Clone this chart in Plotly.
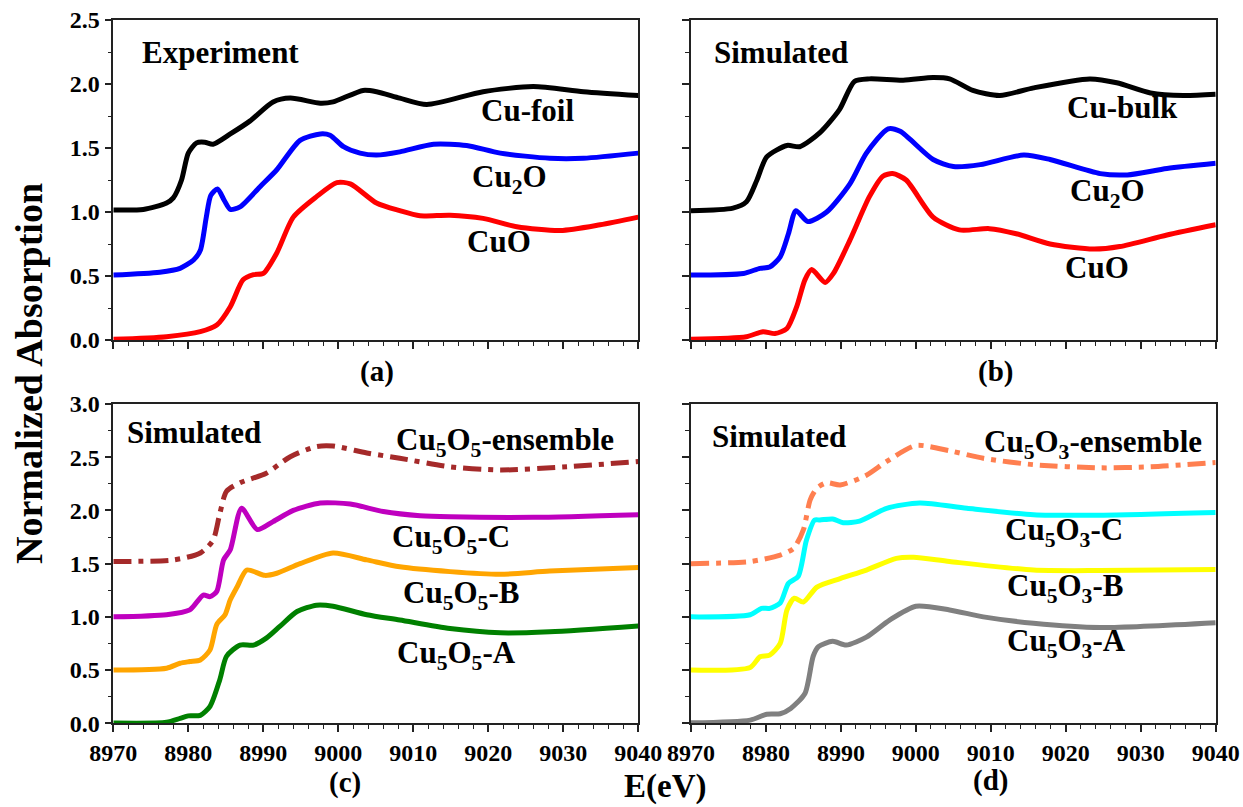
import plotly.graph_objects as go

# ---------------- data ----------------
# (a) Experiment
a_foil_E = [8970, 8974, 8977.1, 8978, 8979.1, 8980, 8981.1, 8982.2, 8983.3, 8985.6, 8988.2, 8991.3, 8993.6, 8997.6, 8999.3, 9003.3, 9005.1, 9008.2, 9011.8, 9019.3, 9026, 9032.7, 9040]
a_foil_mu = [1.016, 1.02, 1.07, 1.11, 1.25, 1.46, 1.54, 1.545, 1.53, 1.61, 1.71, 1.86, 1.89, 1.85, 1.86, 1.95, 1.94, 1.89, 1.84, 1.94, 1.98, 1.94, 1.91]
a_cu2o_E = [8970, 8976.2, 8978.9, 8980.7, 8981.6, 8982.4, 8983, 8983.9, 8984.8, 8985.6, 8986.9, 8989.6, 8991.8, 8994.9, 8997.6, 8998.9, 9000.7, 9002.9, 9005.1, 9008.2, 9012.7, 9017.1, 9021.6, 9028.2, 9032.7, 9040]
a_cu2o_mu = [0.508, 0.53, 0.56, 0.625, 0.70, 0.96, 1.13, 1.18, 1.09, 1.02, 1.04, 1.20, 1.33, 1.56, 1.61, 1.60, 1.51, 1.46, 1.445, 1.47, 1.53, 1.52, 1.46, 1.42, 1.42, 1.46]
a_cuo_E = [8970, 8977.1, 8981.6, 8983.8, 8985.6, 8987.3, 8988.7, 8990, 8991.8, 8994, 8997.1, 8999.8, 9001.6, 9005.1, 9008.2, 9010.9, 9014.9, 9019.3, 9023.8, 9029.6, 9034.9, 9040]
a_cuo_mu = [0.005, 0.026, 0.065, 0.117, 0.26, 0.47, 0.51, 0.52, 0.68, 0.96, 1.12, 1.23, 1.22, 1.07, 1.01, 0.97, 0.975, 0.95, 0.885, 0.855, 0.90, 0.96]

# (b) Simulated bulk references
b_bulk_E = [8970, 8975.6, 8977.4, 8978.8, 8980.1, 8982.8, 8984.5, 8987.2, 8989.8, 8991.8, 8993.8, 8998.3, 9002.3, 9004.5, 9007.6, 9011.2, 9015.7, 9023.2, 9026.8, 9031.3, 9035.7, 9040]
b_bulk_mu = [1.01, 1.03, 1.08, 1.25, 1.43, 1.52, 1.51, 1.62, 1.80, 2.02, 2.04, 2.03, 2.05, 2.04, 1.95, 1.91, 1.97, 2.04, 2.01, 1.93, 1.91, 1.92]
b_cu2o_E = [8970, 8977, 8979.2, 8980.5, 8981.9, 8983, 8984, 8985.6, 8988.1, 8991.2, 8993.4, 8996.3, 8997.9, 9002.3, 9005, 9008.6, 9014.4, 9017.9, 9024.6, 9028.2, 9033.5, 9040]
b_cu2o_mu = [0.508, 0.52, 0.56, 0.57, 0.65, 0.83, 1.01, 0.925, 1.00, 1.22, 1.46, 1.65, 1.63, 1.41, 1.355, 1.37, 1.445, 1.41, 1.30, 1.29, 1.34, 1.38]
b_cuo_E = [8970, 8977.4, 8979.6, 8981.2, 8982.8, 8984.1, 8985.2, 8986.1, 8987.9, 8989, 8991.2, 8993.8, 8995.6, 8996.9, 8998.7, 9002.3, 9005.8, 9009.8, 9013.4, 9017.9, 9023.7, 9027.2, 9033.5, 9040]
b_cuo_mu = [0.005, 0.026, 0.065, 0.05, 0.09, 0.26, 0.47, 0.55, 0.45, 0.52, 0.78, 1.12, 1.28, 1.30, 1.25, 0.96, 0.86, 0.87, 0.83, 0.75, 0.71, 0.73, 0.82, 0.90]

# (c) Cu5O5 clusters
c_ens_E = [8970, 8978, 8981.6, 8983.3, 8984.2, 8985.1, 8986.9, 8990.4, 8993.6, 8997.1, 8999.3, 9003.8, 9008.2, 9014.9, 9021.6, 9030.5, 9040]
c_ens_mu = [1.52, 1.535, 1.60, 1.72, 1.97, 2.18, 2.26, 2.35, 2.505, 2.60, 2.605, 2.54, 2.49, 2.41, 2.38, 2.41, 2.46]
c_C_E = [8970, 8977.1, 8980.2, 8982, 8982.9, 8983.8, 8984.7, 8985.6, 8987.1, 8989.2, 8991.3, 8994, 8997.6, 9001.6, 9006, 9010.9, 9014.9, 9026, 9040]
c_C_mu = [1.00, 1.02, 1.065, 1.205, 1.19, 1.24, 1.535, 1.63, 2.02, 1.82, 1.895, 2.00, 2.07, 2.06, 1.99, 1.95, 1.94, 1.935, 1.96]
c_B_E = [8970, 8977.1, 8978.9, 8980.2, 8981.6, 8982.9, 8983.8, 8984.9, 8985.6, 8986.5, 8987.8, 8990.2, 8991.8, 8994.9, 8999.3, 9003.8, 9008.2, 9014.9, 9021.6, 9028.2, 9040]
c_B_mu = [0.50, 0.517, 0.564, 0.58, 0.595, 0.69, 0.93, 1.02, 1.16, 1.28, 1.44, 1.39, 1.41, 1.50, 1.60, 1.535, 1.47, 1.425, 1.40, 1.43, 1.465]
c_A_E = [8970, 8977.1, 8978.9, 8980, 8981.6, 8982.9, 8984.2, 8985.1, 8986.9, 8988.7, 8990.4, 8992.2, 8994.5, 8997.1, 8999.3, 9003.8, 9008.2, 9014.9, 9021.6, 9028.2, 9040]
c_A_mu = [0.003, 0.01, 0.047, 0.07, 0.075, 0.16, 0.41, 0.63, 0.735, 0.735, 0.80, 0.91, 1.05, 1.11, 1.10, 1.02, 0.97, 0.89, 0.85, 0.86, 0.915]

# (d) Cu5O3 clusters
d_ens_E = [8970, 8977.9, 8981.9, 8983.7, 8985, 8985.9, 8986.8, 8988.1, 8989.9, 8993.4, 8996.1, 9000, 9004.5, 9009, 9015.7, 9024.6, 9031.3, 9040]
d_ens_mu = [1.50, 1.52, 1.58, 1.645, 1.82, 2.10, 2.21, 2.26, 2.24, 2.33, 2.46, 2.61, 2.56, 2.49, 2.43, 2.40, 2.41, 2.45]
d_C_E = [8970, 8977.9, 8979.4, 8980.5, 8981.9, 8983, 8984.3, 8985.4, 8986.5, 8987.2, 8988.9, 8990.3, 8992.5, 8996.1, 9000.5, 9006.8, 9015.7, 9024.6, 9040]
d_C_mu = [1.00, 1.02, 1.08, 1.08, 1.13, 1.315, 1.38, 1.72, 1.91, 1.91, 1.92, 1.885, 1.90, 2.02, 2.07, 2.02, 1.96, 1.955, 1.98]
d_B_E = [8970, 8977.9, 8979.2, 8980.5, 8981.9, 8982.8, 8983.8, 8985, 8986.8, 8989.9, 8993.4, 8997.4, 8999.7, 9004.5, 9015.7, 9024.6, 9040]
d_B_mu = [0.50, 0.525, 0.625, 0.64, 0.75, 1.065, 1.175, 1.14, 1.28, 1.36, 1.44, 1.55, 1.56, 1.52, 1.44, 1.435, 1.445]
d_A_E = [8970, 8977.9, 8980.1, 8981.9, 8983.3, 8985.2, 8986.3, 8987, 8988.9, 8990.7, 8993.4, 8996.5, 9000, 9004.5, 9009, 9015.7, 9024.6, 9040]
d_A_mu = [0.005, 0.03, 0.085, 0.09, 0.14, 0.28, 0.63, 0.72, 0.77, 0.735, 0.81, 0.97, 1.10, 1.065, 1.00, 0.94, 0.90, 0.945]

x_ticks = [8970, 8980, 8990, 9000, 9010, 9020, 9030, 9040]

# ---------------- figure ----------------
FONT = "Liberation Serif"
fig = go.Figure()

series = [
    ("x", "y", a_foil_E, a_foil_mu, "black", "solid"),
    ("x", "y", a_cu2o_E, a_cu2o_mu, "#0000FF", "solid"),
    ("x", "y", a_cuo_E, a_cuo_mu, "#FF0000", "solid"),
    ("x2", "y2", b_bulk_E, b_bulk_mu, "black", "solid"),
    ("x2", "y2", b_cu2o_E, b_cu2o_mu, "#0000FF", "solid"),
    ("x2", "y2", b_cuo_E, b_cuo_mu, "#FF0000", "solid"),
    ("x3", "y3", c_ens_E, c_ens_mu, "#A52A2A", "18px,7px,5px,7px"),
    ("x3", "y3", c_C_E, c_C_mu, "#BF00BF", "solid"),
    ("x3", "y3", c_B_E, c_B_mu, "#FFA500", "solid"),
    ("x3", "y3", c_A_E, c_A_mu, "#008000", "solid"),
    ("x4", "y4", d_ens_E, d_ens_mu, "#FF7F50", "18px,7px,5px,7px"),
    ("x4", "y4", d_C_E, d_C_mu, "#00FFFF", "solid"),
    ("x4", "y4", d_B_E, d_B_mu, "#FFFF00", "solid"),
    ("x4", "y4", d_A_E, d_A_mu, "#808080", "solid"),
]
for xa, ya, xs, ys, col, dash in series:
    fig.add_trace(go.Scatter(x=xs, y=ys, xaxis=xa, yaxis=ya, mode="lines",
                             line=dict(color=col, width=5, dash=dash, shape="spline", smoothing=0.7),
                             showlegend=False, hoverinfo="skip"))

W, H = 1243, 807
xdomL = [113.3 / W, 638.3 / W]
xdomR = [691.0 / W, 1215.7 / W]
ydomT = [1 - 340.0 / H, 1 - 20.0 / H]
ydomB = [1 - 723.3 / H, 1 - 404.0 / H]

tickfont = dict(family=FONT, size=24, color="black")

def xaxis(dom, anchor, labels):
    return dict(domain=dom, anchor=anchor, range=[8970, 9040], tickmode="array",
                tickvals=x_ticks, ticktext=[f"<b>{v}</b>" for v in x_ticks] if labels else [""] * len(x_ticks),
                ticks="outside", ticklen=7, tickwidth=1.5, tickcolor="#222",
                minor=dict(dtick=2, tick0=8970, ticks="outside", ticklen=4, tickwidth=1.2, tickcolor="#222"),
                showline=True, linecolor="#222", linewidth=1.5, mirror=True, automargin=False,
                showgrid=False, zeroline=False, tickfont=tickfont)

def yaxis(dom, anchor, rng, labels):
    vals = [i * 0.5 for i in range(int(rng[1] / 0.5) + 1)]
    return dict(domain=dom, anchor=anchor, range=rng, tickmode="array",
                tickvals=vals, ticktext=[f"<b>{v:.1f}</b>" for v in vals] if labels else [""] * len(vals),
                ticks="outside", ticklen=7, tickwidth=1.5, tickcolor="#222",
                minor=dict(dtick=0.25, tick0=0, ticks="outside", ticklen=4, tickwidth=1.2, tickcolor="#222"),
                showline=True, linecolor="#222", linewidth=1.5, mirror=True, automargin=False,
                showgrid=False, zeroline=False, tickfont=tickfont)

fig.update_layout(
    width=W, height=H, autosize=False,
    margin=dict(l=0, r=0, t=0, b=0, pad=0),
    plot_bgcolor="white", paper_bgcolor="white",
    xaxis=xaxis(xdomL, "y", False), yaxis=yaxis(ydomT, "x", [0, 2.5], True),
    xaxis2=xaxis(xdomR, "y2", False), yaxis2=yaxis(ydomT, "x2", [0, 2.5], False),
    xaxis3=xaxis(xdomL, "y3", True), yaxis3=yaxis(ydomB, "x3", [0, 3.0], True),
    xaxis4=xaxis(xdomR, "y4", True), yaxis4=yaxis(ydomB, "x4", [0, 3.0], False),
)

LBL = 31
def ann(text, xref, yref, x, y, size=LBL, xanchor="center"):
    fig.add_annotation(text=f"<b>{text}</b>", xref=xref, yref=yref, x=x, y=y,
                       xanchor=xanchor, yanchor="middle", showarrow=False,
                       font=dict(family=FONT, size=size, color="black"))

ann("Experiment", "x", "y", 8973.6, 2.25, xanchor="left")
ann("Cu-foil", "x", "y", 9025.2, 1.79)
ann("Cu<sub>2</sub>O", "x", "y", 9022.8, 1.26)
ann("CuO", "x", "y", 9021.4, 0.77)

ann("Simulated", "x2", "y2", 8972.8, 2.25, xanchor="left")
ann("Cu-bulk", "x2", "y2", 9027.5, 1.82)
ann("Cu<sub>2</sub>O", "x2", "y2", 9025.5, 1.15)
ann("CuO", "x2", "y2", 9024.1, 0.57)

ann("Simulated", "x3", "y3", 8971.6, 2.73, xanchor="left")
ann("Cu<sub>5</sub>O<sub>5</sub>-ensemble", "x3", "y3", 9022.2, 2.64)
ann("Cu<sub>5</sub>O<sub>5</sub>-C", "x3", "y3", 9015.0, 1.73)
ann("Cu<sub>5</sub>O<sub>5</sub>-B", "x3", "y3", 9016.3, 1.21)
ann("Cu<sub>5</sub>O<sub>5</sub>-A", "x3", "y3", 9015.8, 0.64)

ann("Simulated", "x4", "y4", 8972.5, 2.69, xanchor="left")
ann("Cu<sub>5</sub>O<sub>3</sub>-ensemble", "x4", "y4", 9023.6, 2.62)
ann("Cu<sub>5</sub>O<sub>3</sub>-C", "x4", "y4", 9019.8, 1.80)
ann("Cu<sub>5</sub>O<sub>3</sub>-B", "x4", "y4", 9019.9, 1.27)
ann("Cu<sub>5</sub>O<sub>3</sub>-A", "x4", "y4", 9020.1, 0.75)

# panel letters and axis titles (paper coordinates)
def pann(text, px, py, size, angle=0):
    fig.add_annotation(text=f"<b>{text}</b>", xref="paper", yref="paper",
                       x=px / W, y=1 - py / H, xanchor="center", yanchor="middle",
                       showarrow=False, textangle=angle,
                       font=dict(family=FONT, size=size, color="black"))

pann("(a)", 377, 372, 29)
pann("(b)", 995, 372, 29)
pann("(c)", 345, 782, 29)
pann("(d)", 990, 780, 29)
pann("E(eV)", 665, 786, 33)
pann("Normalized Absorption", 29, 374, 38, angle=-90)

fig.write_html("out.html")
